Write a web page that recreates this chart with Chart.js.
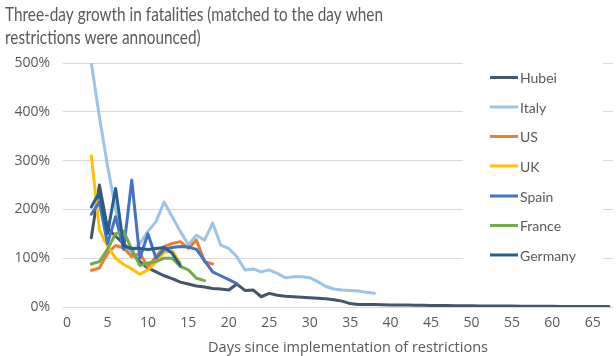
<!DOCTYPE html>
<html><head><meta charset="utf-8">
<script src="https://cdn.jsdelivr.net/npm/chart.js@4.4.1/dist/chart.umd.min.js"></script>
<style>html,body{margin:0;padding:0;background:#fff}#wrap{width:616px;height:356px}</style>
</head><body><div id="wrap"><canvas id="c" width="616" height="356"></canvas></div>
<script>
const titleLines = ['Three-day growth in fatalities (matched to the day when', 'restrictions were announced)'];
const xAxisTitle = 'Days since implementation of restrictions';
const seriesNames = ['Hubei', 'Italy', 'US', 'UK', 'Spain', 'France', 'Germany'];
const seriesColors = ['#44546A', '#9DC3E6', '#ED7D31', '#FFC000', '#4472C4', '#70AD47', '#255E91'];
const days = [];
for (let d = 3; d <= 67; d++) days.push(d);
const xTicks = [0, 5, 10, 15, 20, 25, 30, 35, 40, 45, 50, 55, 60, 65];
const yTicks = [0, 100, 200, 300, 400, 500];

// values in %, starting at day 3
const hubei = [142, 250, 162, 145, 130, 112, 93, 80, 72, 64, 58, 51, 47, 43, 41, 38, 37, 35, 47, 34, 35, 21, 28, 24, 22, 21, 20, 19, 18, 17, 15, 12, 7, 5, 5, 5, 4.5, 4, 4, 4, 3.5, 3.5, 3, 3, 3, 2.5, 2.5, 2.5, 2, 2, 2, 2, 2, 1.5, 1.5, 1.5, 1.5, 1.5, 1.2, 1.2, 1.2, 1, 1, 1, 1];
const italy = [500, 390, 290, 200, 120, 112, 130, 155, 175, 215, 185, 155, 128, 147, 137, 172, 127, 120, 103, 76, 78, 72, 76, 69, 60, 62, 62, 60, 52, 42, 37, 35, 34, 33, 30, 28];
const us = [75, 80, 110, 126, 121, 103, 110, 82, 103, 124, 130, 134, 120, 137, 93, 88];
const uk = [310, 158, 125, 100, 87, 78, 67, 76, 92, 112, 115, 90];
const spain = [190, 215, 130, 185, 118, 260, 100, 150, 100, 118, 122, 124, 123, 118, 95, 72, 64, 56, 48];
const france = [88, 93, 118, 150, 155, 118, 85, 90, 93, 100, 100, 83, 76, 59, 54];
const germany = [205, 235, 150, 243, 125, 120, 120, 118, 120, 122, 110, 85];
const seriesData = [hubei, italy, us, uk, spain, france, germany];

const textColor = '#595959';
const gridColor = '#D9D9D9';

const overlay = {
  id: 'overlay',
  afterDraw(chart) {
    const ctx = chart.ctx;
    ctx.save();
    // title
    ctx.fillStyle = textColor;
    ctx.font = '19px Lato';
    ctx.textBaseline = 'alphabetic';
    ctx.textAlign = 'left';
    const w1 = ctx.measureText(titleLines[0]).width;
    const k = 378 / w1;
    ctx.save();
    ctx.translate(5, 0);
    ctx.scale(k, 1);
    ctx.fillText(titleLines[0], 0, 21);
    ctx.fillText(titleLines[1], 0, 44);
    ctx.restore();
    // x axis title
    ctx.font = '14.5px "Open Sans"';
    ctx.textAlign = 'center';
    ctx.fillText(xAxisTitle, 348, 352);
    // legend
    ctx.textAlign = 'left';
    ctx.fillStyle = '#fff';
    ctx.fillRect(463, 59, 140, 212);
    const ys = [77.5, 107, 136.5, 166, 196, 225.5, 255];
    chart.data.datasets.forEach((ds, i) => {
      const y = ys[i];
      ctx.strokeStyle = ds.borderColor;
      ctx.lineWidth = 3;
      ctx.beginPath();
      ctx.moveTo(490, y);
      ctx.lineTo(518, y);
      ctx.stroke();
      ctx.fillStyle = textColor;
      ctx.font = '14px Lato';
      ctx.textBaseline = 'middle';
      ctx.fillText(ds.label, 520, y + 1);
    });
    ctx.restore();
  }
};

new Chart(document.getElementById('c'), {
  type: 'line',
  data: {
    labels: days,
    datasets: seriesNames.map((n, i) => ({
      label: n,
      data: seriesData[i],
      borderColor: seriesColors[i],
      backgroundColor: seriesColors[i],
      borderWidth: 3,
      pointRadius: 0,
      tension: 0,
      fill: false,
      order: seriesNames.length - 1 - i,
      borderJoinStyle: 'round',
      borderCapStyle: 'round'
    }))
  },
  options: {
    responsive: false,
    animation: false,
    devicePixelRatio: 1,
    layout: { padding: { top: 63, right: 3, left: 0, bottom: 0 } },
    plugins: { legend: { display: false }, title: { display: false }, tooltip: { enabled: false } },
    scales: {
      x: {
        type: 'linear', min: -0.5, max: 67.5,
        afterBuildTicks: s => { s.ticks = xTicks.map(v => ({ value: v })); },
        afterFit: s => { s.height = 49; },
        grid: { display: false, drawTicks: false },
        border: { display: false },
        ticks: { color: textColor, font: { family: 'Open Sans', size: 14 }, padding: 8, maxRotation: 0, autoSkip: false },
        title: { display: false }
      },
      y: {
        min: 0, max: 500,
        afterBuildTicks: s => { s.ticks = yTicks.map(v => ({ value: v })); },
        afterFit: s => { s.width = 63; },
        grid: { color: gridColor, lineWidth: 1, drawTicks: false },
        border: { display: false },
        ticks: { color: textColor, font: { family: 'Open Sans', size: 14 }, padding: 13, callback: v => v + '%' }
      }
    }
  },
  plugins: [overlay]
});
</script>
</body></html>
